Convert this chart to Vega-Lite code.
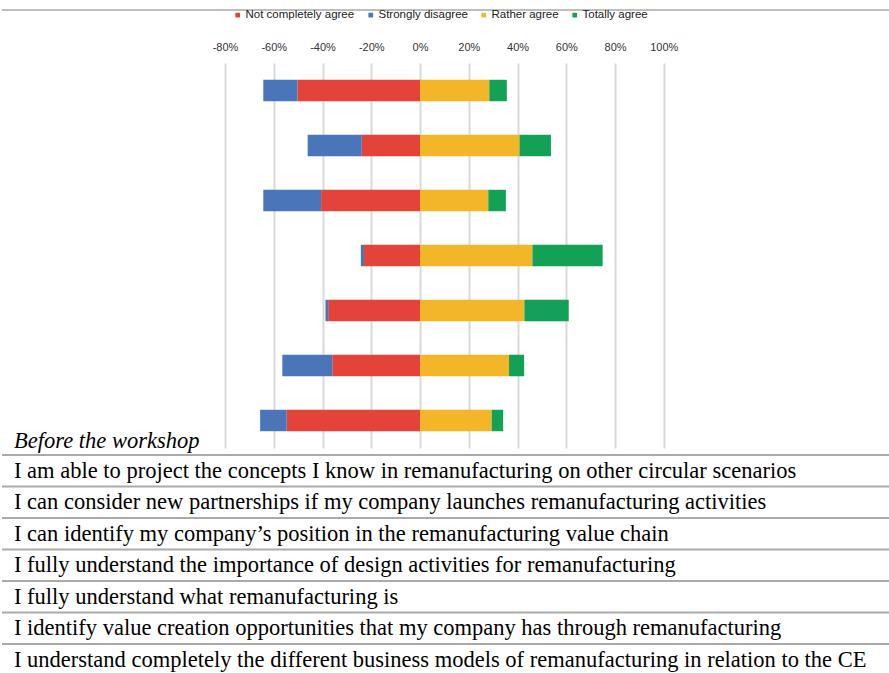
{
  "$schema": "https://vega.github.io/schema/vega-lite/v6.json",
  "background": "white",
  "padding": 0,
  "config": {
    "view": {"stroke": "transparent"},
    "font": "Liberation Sans"
  },
  "datasets": {
    "responses": [
      {"statement": "I understand completely the different business models of remanufacturing in relation to the CE", "response": "Not completely agree", "share": -50.3},
      {"statement": "I understand completely the different business models of remanufacturing in relation to the CE", "response": "Strongly disagree", "share": -14.0},
      {"statement": "I understand completely the different business models of remanufacturing in relation to the CE", "response": "Rather agree", "share": 28.4},
      {"statement": "I understand completely the different business models of remanufacturing in relation to the CE", "response": "Totally agree", "share": 7.2},
      {"statement": "I identify value creation opportunities that my company has through remanufacturing", "response": "Not completely agree", "share": -23.9},
      {"statement": "I identify value creation opportunities that my company has through remanufacturing", "response": "Strongly disagree", "share": -22.2},
      {"statement": "I identify value creation opportunities that my company has through remanufacturing", "response": "Rather agree", "share": 40.8},
      {"statement": "I identify value creation opportunities that my company has through remanufacturing", "response": "Totally agree", "share": 12.9},
      {"statement": "I fully understand what remanufacturing is", "response": "Not completely agree", "share": -40.6},
      {"statement": "I fully understand what remanufacturing is", "response": "Strongly disagree", "share": -23.7},
      {"statement": "I fully understand what remanufacturing is", "response": "Rather agree", "share": 28.0},
      {"statement": "I fully understand what remanufacturing is", "response": "Totally agree", "share": 7.2},
      {"statement": "I fully understand the importance of design activities for remanufacturing", "response": "Not completely agree", "share": -23.0},
      {"statement": "I fully understand the importance of design activities for remanufacturing", "response": "Strongly disagree", "share": -1.3},
      {"statement": "I fully understand the importance of design activities for remanufacturing", "response": "Rather agree", "share": 46.1},
      {"statement": "I fully understand the importance of design activities for remanufacturing", "response": "Totally agree", "share": 28.8},
      {"statement": "I can identify my company’s position in the remanufacturing value chain", "response": "Not completely agree", "share": -37.7},
      {"statement": "I can identify my company’s position in the remanufacturing value chain", "response": "Strongly disagree", "share": -1.1},
      {"statement": "I can identify my company’s position in the remanufacturing value chain", "response": "Rather agree", "share": 42.8},
      {"statement": "I can identify my company’s position in the remanufacturing value chain", "response": "Totally agree", "share": 18.2},
      {"statement": "I can consider new partnerships if my company launches remanufacturing activities", "response": "Not completely agree", "share": -36.0},
      {"statement": "I can consider new partnerships if my company launches remanufacturing activities", "response": "Strongly disagree", "share": -20.5},
      {"statement": "I can consider new partnerships if my company launches remanufacturing activities", "response": "Rather agree", "share": 36.5},
      {"statement": "I can consider new partnerships if my company launches remanufacturing activities", "response": "Totally agree", "share": 6.2},
      {"statement": "I am able to project the concepts I know in remanufacturing on other circular scenarios", "response": "Not completely agree", "share": -54.7},
      {"statement": "I am able to project the concepts I know in remanufacturing on other circular scenarios", "response": "Strongly disagree", "share": -10.9},
      {"statement": "I am able to project the concepts I know in remanufacturing on other circular scenarios", "response": "Rather agree", "share": 29.4},
      {"statement": "I am able to project the concepts I know in remanufacturing on other circular scenarios", "response": "Totally agree", "share": 4.7}
    ],
    "statements": [
      {"label": "I am able to project the concepts I know in remanufacturing on other circular scenarios"},
      {"label": "I can consider new partnerships if my company launches remanufacturing activities"},
      {"label": "I can identify my company’s position in the remanufacturing value chain"},
      {"label": "I fully understand the importance of design activities for remanufacturing"},
      {"label": "I fully understand what remanufacturing is"},
      {"label": "I identify value creation opportunities that my company has through remanufacturing"},
      {"label": "I understand completely the different business models of remanufacturing in relation to the CE"}
    ],
    "frame": [{"edge": "top"}]
  },
  "spacing": 20,
  "vconcat": [
    {
      "width": 889,
      "height": 18,
      "data": {"name": "frame"},
      "mark": {"type": "rule", "color": "#a8a8a8", "strokeWidth": 1.6},
      "encoding": {
        "y": {"datum": 0.5, "type": "quantitative", "scale": {"domain": [0, 1]}, "axis": null}
      }
    },
    {
      "spacing": 0,
      "vconcat": [
        {
          "width": 889,
          "height": 385,
          "title": {
            "text": "Before the workshop",
            "orient": "bottom",
            "anchor": "start",
            "frame": "group",
            "baseline": "middle",
            "offset": -7,
            "dx": 12,
            "font": "Liberation Serif",
            "fontSize": 22.5,
            "fontStyle": "italic",
            "fontWeight": "normal",
            "color": "#000000"
          },
          "data": {"name": "responses"},
          "mark": {"type": "bar"},
          "encoding": {
            "y": {
              "field": "statement",
              "type": "nominal",
              "sort": [
                "I understand completely the different business models of remanufacturing in relation to the CE",
                "I identify value creation opportunities that my company has through remanufacturing",
                "I fully understand what remanufacturing is",
                "I fully understand the importance of design activities for remanufacturing",
                "I can identify my company’s position in the remanufacturing value chain",
                "I can consider new partnerships if my company launches remanufacturing activities",
                "I am able to project the concepts I know in remanufacturing on other circular scenarios"
              ],
              "scale": {"paddingInner": 0.61, "paddingOuter": 0.305},
              "axis": null
            },
            "x": {
              "field": "share",
              "type": "quantitative",
              "stack": "zero",
              "scale": {"domain": [-171.5, 193.2], "nice": false, "zero": false},
              "axis": {
                "orient": "top",
                "title": null,
                "values": [-80, -60, -40, -20, 0, 20, 40, 60, 80, 100],
                "labelExpr": "datum.value + '%'",
                "labelFont": "Liberation Sans",
                "labelFontSize": 11,
                "labelColor": "#333333",
                "labelPadding": 10.7,
                "ticks": false,
                "domain": false,
                "grid": true,
                "gridColor": "#d9d9d9",
                "gridWidth": 2
              }
            },
            "color": {
              "field": "response",
              "type": "nominal",
              "sort": ["Not completely agree", "Strongly disagree", "Rather agree", "Totally agree"],
              "scale": {
                "domain": ["Not completely agree", "Strongly disagree", "Rather agree", "Totally agree"],
                "range": ["#e4433a", "#4a75b8", "#f2b628", "#13a156"]
              },
              "legend": {
                "orient": "none",
                "legendX": 230,
                "legendY": 8,
                "direction": "horizontal",
                "title": null,
                "padding": 0,
                "symbolType": "square",
                "symbolSize": 22,
                "symbolStrokeWidth": 0,
                "labelFont": "Liberation Sans",
                "labelFontSize": 11.5,
                "labelColor": "#222222",
                "labelOffset": 2,
                "columnPadding": 10
              }
            }
          }
        },
        {
          "width": 889,
          "height": 220.5,
          "data": {"name": "statements"},
          "encoding": {
            "y": {
              "field": "label",
              "type": "nominal",
              "sort": null,
              "scale": {"paddingInner": 0, "paddingOuter": 0},
              "axis": null
            }
          },
          "layer": [
            {
              "mark": {"type": "rule", "color": "#aaaaaa", "strokeWidth": 1.8},
              "encoding": {
                "y": {"field": "label", "type": "nominal", "sort": null, "bandPosition": 0, "axis": null}
              }
            },
            {
              "mark": {"type": "text", "align": "left", "baseline": "middle", "font": "Liberation Serif", "fontSize": 22.5, "color": "#000000", "dx": 12},
              "encoding": {
                "x": {"datum": 0, "type": "quantitative", "scale": {"domain": [0, 1]}, "axis": null},
                "text": {"field": "label"}
              }
            }
          ]
        }
      ]
    }
  ]
}
